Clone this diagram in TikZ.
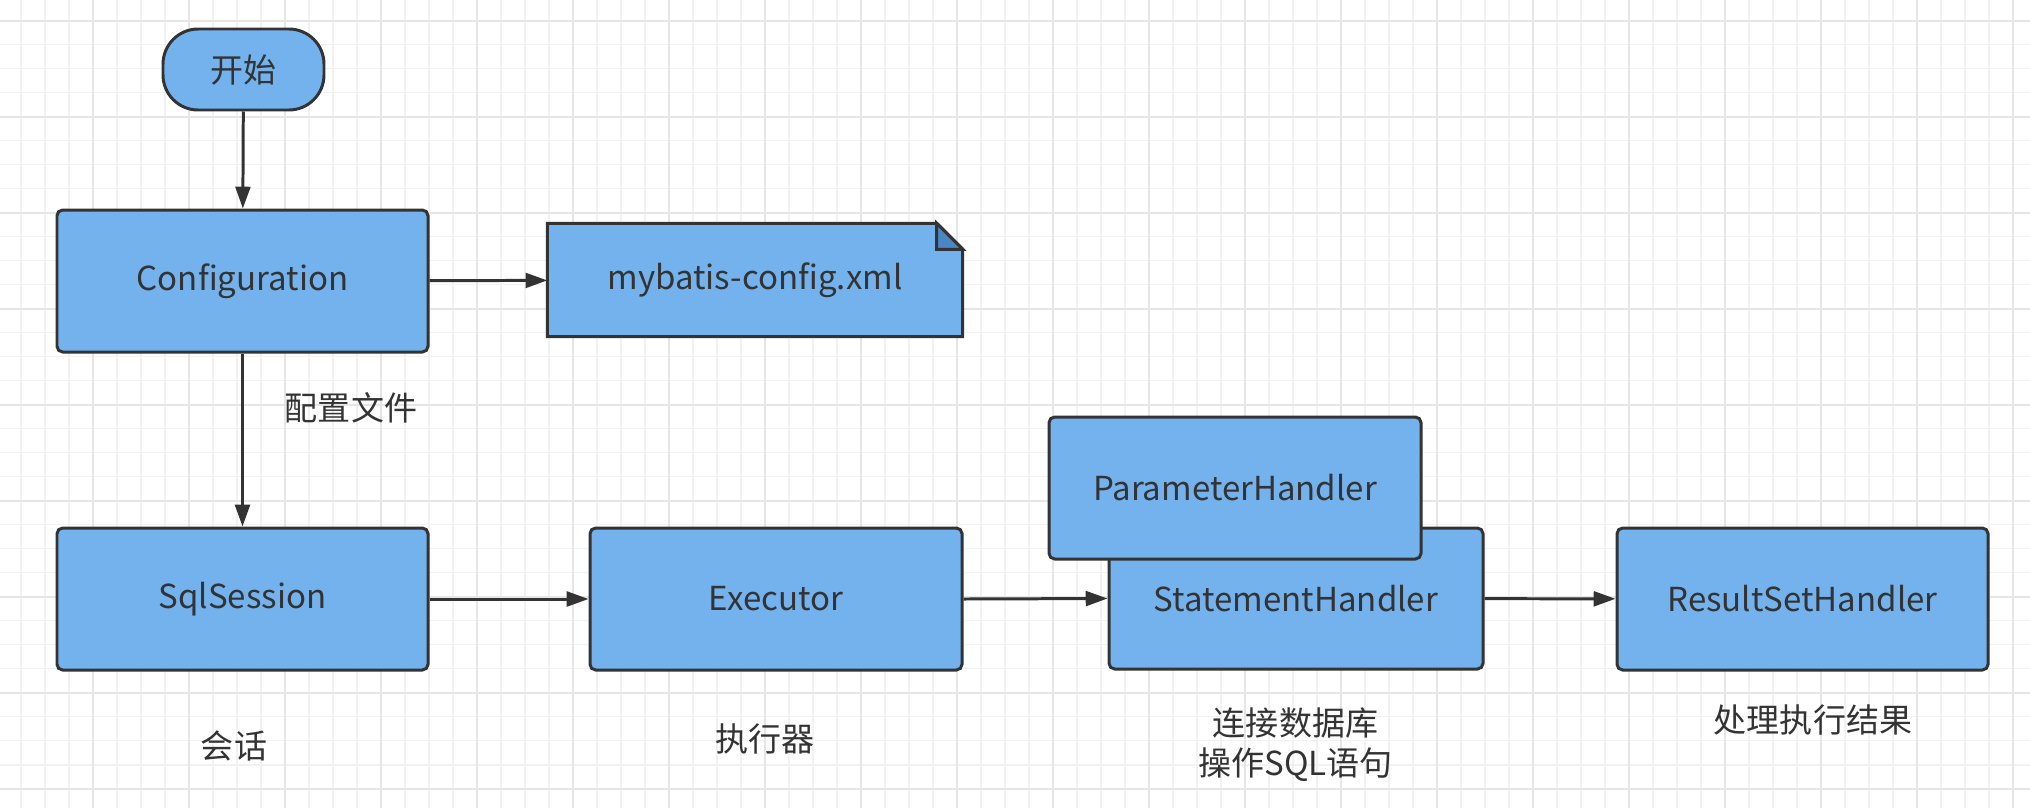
\documentclass[tikz,border=0pt]{standalone}
\usepackage{fontspec}
\setmainfont{Noto Sans CJK SC}
\usepackage{tikz}
\usetikzlibrary{arrows.meta}
\pgfdeclarelayer{grid}
\pgfdeclarelayer{bg}
\pgfsetlayers{grid,bg,main}
\definecolor{boxblue}{HTML}{74B2EE}
\definecolor{foldblue}{HTML}{4A86C4}
\definecolor{inkgray}{HTML}{333333}
\definecolor{gridminor}{HTML}{F2F2F2}
\definecolor{gridmajor}{HTML}{E6E6E6}
\tikzset{
	box/.style={draw=inkgray, fill=boxblue, line width=.85pt, rounded corners=1.6pt, minimum width=3.7cm, minimum height=1.42cm, inner sep=0pt, text=inkgray},
	flow/.style={draw=inkgray, line width=.85pt, -{Triangle[length=6.2pt,width=4.2pt]}},
	note/.style={text=inkgray, align=center, inner sep=0pt}
}

\begin{document}
\begin{tikzpicture}[x=1cm, y=-1cm, font=\fontsize{9.4}{11.4}\selectfont]
				\useasboundingbox (0,0) rectangle (20.3,8.08);
				\begin{pgfonlayer}{grid}
					\fill[white] (0,0) rectangle (20.3,8.08);
					\foreach \i in {0,...,83} {
						\draw[gridminor, line width=.55pt] (0.21+0.24*\i,0) -- (0.21+0.24*\i,8.08);
					}
					\foreach \i in {0,...,32} {
						\draw[gridminor, line width=.55pt] (0,0.205+0.24*\i) -- (20.3,0.205+0.24*\i);
					}
					\foreach \i in {0,...,20} {
						\draw[gridmajor, line width=.55pt] (0.93+0.96*\i,0) -- (0.93+0.96*\i,8.08);
					}
					\foreach \i in {0,...,8} {
						\draw[gridmajor, line width=.55pt] (0,0.21+0.96*\i) -- (20.3,0.21+0.96*\i);
					}
				\end{pgfonlayer}
				\node[box, rounded corners=10pt, minimum width=1.61cm, minimum height=0.81cm] (start) at (2.435,0.695) {开始};
				\node[box, minimum width=3.71cm] (config) at (2.425,2.81) {Configuration};
				\node[note, minimum width=4.14cm, minimum height=1.12cm] (xml) at (7.55,2.80) {mybatis-config.xml};
				\begin{pgfonlayer}{bg}
					\draw[draw=inkgray, fill=boxblue, line width=.85pt] (xml.north west) -- ([xshift=-0.26cm]xml.north east) -- ([yshift=-0.26cm]xml.north east) -- (xml.south east) -- (xml.south west) -- cycle;
					\draw[draw=inkgray, fill=foldblue, line width=.85pt] ([xshift=-0.26cm]xml.north east) -- ([xshift=-0.26cm, yshift=-0.26cm]xml.north east) -- ([yshift=-0.26cm]xml.north east) -- cycle;
				\end{pgfonlayer}
				\node[box, minimum width=3.71cm] (session) at (2.425,5.99) {SqlSession};
				\node[box, minimum width=3.72cm] (executor) at (7.76,5.99) {Executor};
				\node[box, minimum width=3.74cm, minimum height=1.41cm] (statement) at (12.96,5.985) {StatementHandler};
				\node[box, minimum width=3.72cm] (parameter) at (12.35,4.88) {ParameterHandler};
				\node[box, minimum width=3.71cm] (resultset) at (18.025,5.99) {ResultSetHandler};
				\draw[flow] (start) -- (config);
				\draw[flow] (config) -- (xml);
				\draw[flow] (config) -- (session);
				\draw[flow] (session) -- (executor);
				\draw[flow] (executor.east) -- (statement.west);
				\draw[flow] (statement) -- (resultset);
				\node[note] (configlabel) at (3.51,4.08) {配置文件};
				\node[note] (sessionlabel) at (2.34,7.46) {会话};
				\node[note] (executorlabel) at (7.65,7.39) {执行器};
				\node[note] (statementlabel) at (12.955,7.45) {连接数据库\\操作SQL语句};
				\node[note] (resultsetlabel) at (18.13,7.20) {处理执行结果};
			\end{tikzpicture}
\end{document}
